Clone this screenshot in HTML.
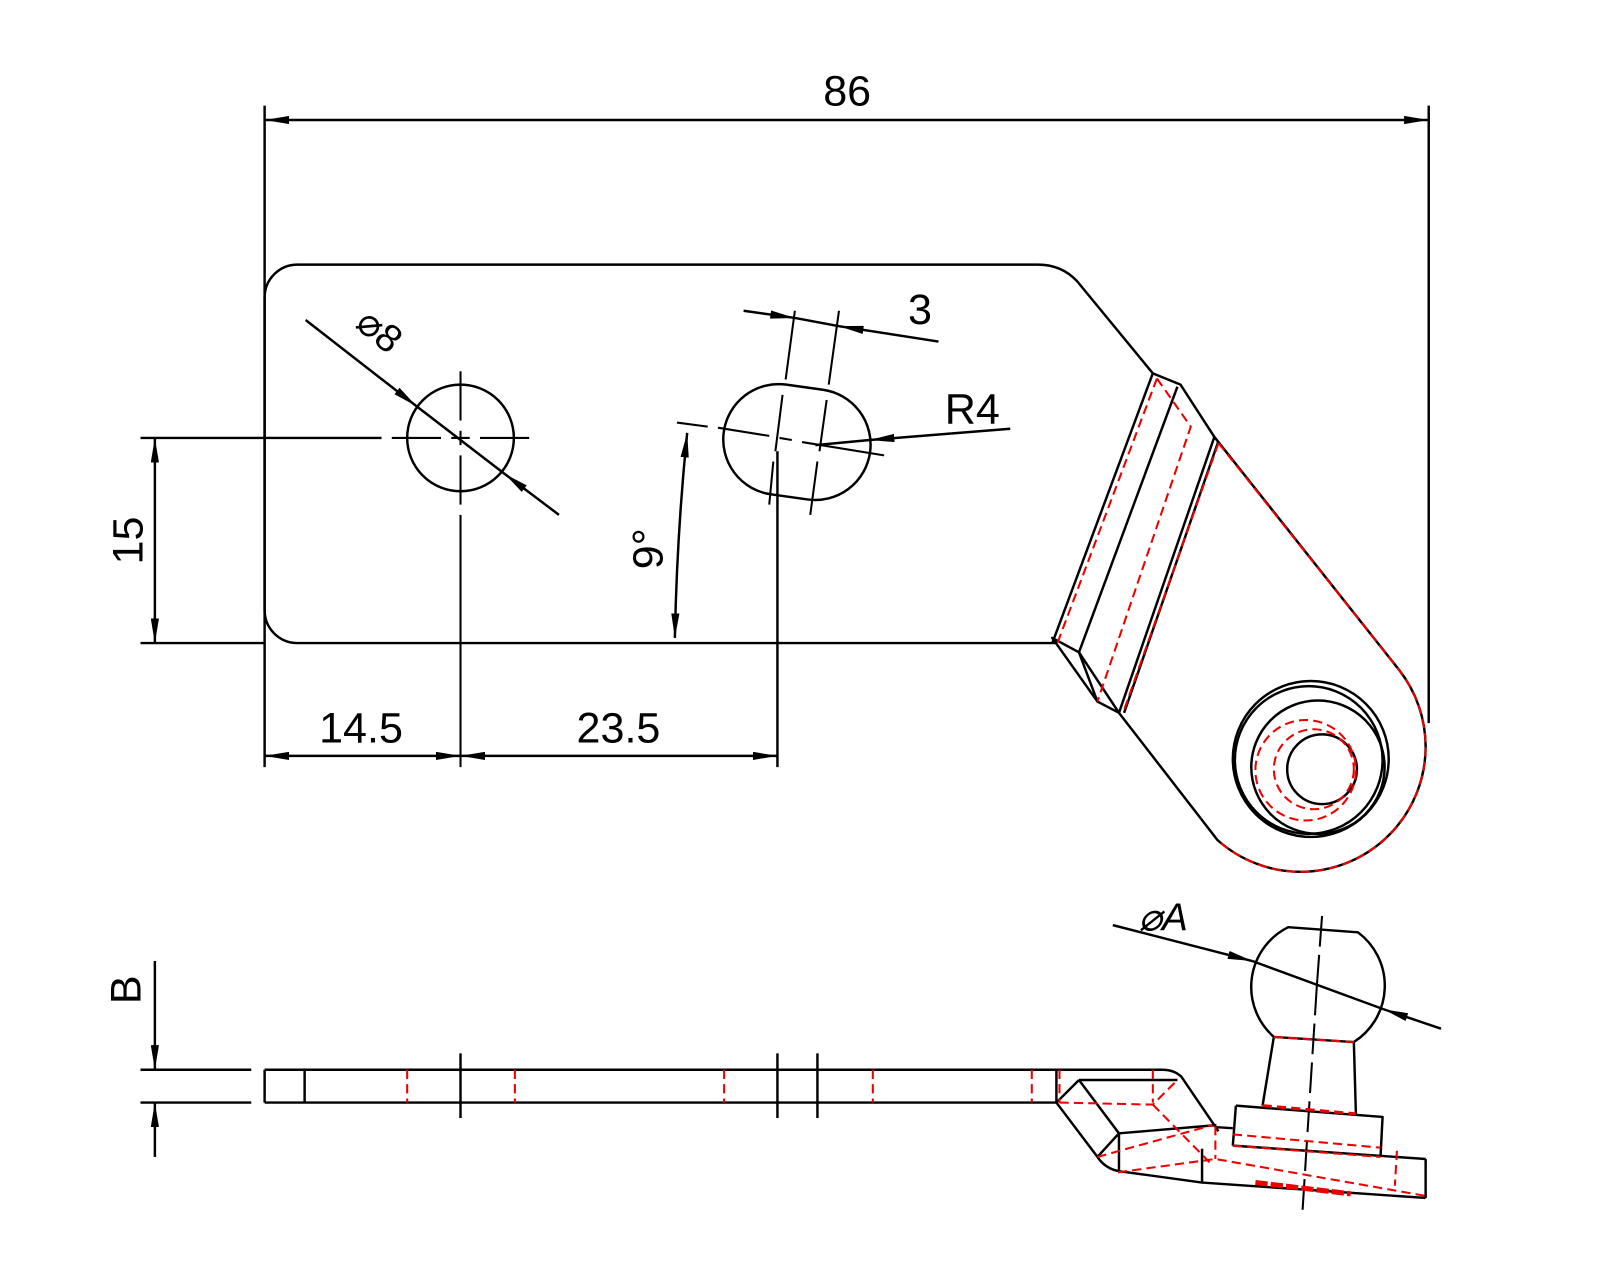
<!DOCTYPE html>
<html><head><meta charset="utf-8"><style>
html,body{margin:0;padding:0;background:#fff;}
svg{display:block;}
text{font-family:"Liberation Sans",sans-serif;fill:#000;}
</style></head><body>
<svg width="1600" height="1280" viewBox="0 0 1560 1248" preserveAspectRatio="none" xmlns="http://www.w3.org/2000/svg">
<defs>
<marker id="a" viewBox="0 0 24 8" refX="24" refY="4" markerWidth="24" markerHeight="8" markerUnits="userSpaceOnUse" orient="auto-start-reverse">
<path d="M0,0 L24,4 L0,8 Z" fill="#000"/></marker>
</defs>
<g fill="none" stroke="#000" stroke-width="2.4" stroke-linejoin="round">
<line x1="258" y1="103" x2="258" y2="748"/>
<line x1="1393" y1="103" x2="1393" y2="705"/>
<line x1="258" y1="117" x2="1393" y2="117" marker-start="url(#a)" marker-end="url(#a)"/>
<path d="M290,258 L1012,258 Q1035,258 1050,274 L1124,364 L1151,375 L1184,426 L1364,653 A122,122 0 0 1 1390,728 A122,122 0 0 1 1268,850 A122,122 0 0 1 1187,819 L1091,695 L1070,684 L1052,636 L1026,622 L1030,627 L290,627 A32,32 0 0 1 258,595 L258,290 A32,32 0 0 1 290,258 Z"/>
<line x1="1026" y1="627" x2="1124" y2="364"/>
<line x1="1148" y1="377" x2="1052" y2="636"/>
<line x1="1184" y1="426" x2="1091" y2="695"/>
<line x1="1188" y1="430" x2="1096" y2="695"/>
<line x1="1052" y1="636" x2="1091" y2="695"/>
<line x1="1026" y1="622" x2="1070" y2="684"/>
<circle cx="1278" cy="740" r="76"/>
<circle cx="1276" cy="741" r="72"/>
<circle cx="1285" cy="748" r="65"/>
<circle cx="1289" cy="750" r="34"/>
<circle cx="449" cy="427" r="52"/>
<path d="M-18,-54 L18,-54 A54,54 0 0 1 18,54 L-18,54 A54,54 0 0 1 -18,-54 Z" transform="translate(777,431) rotate(8)"/>
<line x1="137" y1="427" x2="372" y2="427"/>
<line x1="137" y1="627" x2="258" y2="627"/>
<line x1="151" y1="427" x2="151" y2="627" marker-start="url(#a)" marker-end="url(#a)"/>
<g stroke-width="2">
<line x1="382" y1="427" x2="430" y2="427"/>
<line x1="440" y1="427" x2="458" y2="427"/>
<line x1="468" y1="427" x2="516" y2="427"/>
<line x1="449" y1="362" x2="449" y2="410"/>
<line x1="449" y1="420" x2="449" y2="434"/>
<line x1="449" y1="444" x2="449" y2="492"/>
<line x1="449" y1="502" x2="449" y2="748"/>
</g>
<line x1="298" y1="312" x2="406" y2="396" marker-end="url(#a)"/>
<line x1="406" y1="396" x2="492" y2="462"/>
<line x1="545" y1="502" x2="492" y2="462" marker-end="url(#a)"/>
<g stroke-width="2">
<line x1="775" y1="303" x2="766" y2="370"/>
<line x1="763" y1="385" x2="756" y2="440"/>
<line x1="754" y1="450" x2="750" y2="492"/>
<line x1="818" y1="303" x2="808" y2="375"/>
<line x1="806" y1="390" x2="799" y2="440"/>
<line x1="797" y1="450" x2="790" y2="502"/>
<line x1="660" y1="412" x2="690" y2="416"/>
<line x1="700" y1="417" x2="750" y2="425"/>
<line x1="760" y1="427" x2="772" y2="429"/>
<line x1="782" y1="431" x2="862" y2="444"/>
</g>
<line x1="725" y1="303" x2="775" y2="310" marker-end="url(#a)"/>
<line x1="915" y1="333" x2="818" y2="318" marker-end="url(#a)"/>
<line x1="775" y1="310" x2="818" y2="318"/>
<line x1="985" y1="418" x2="848" y2="429" marker-end="url(#a)"/>
<line x1="848" y1="429" x2="795" y2="434"/>
<line x1="758" y1="440" x2="758" y2="748"/>
<path d="M670,422 Q660,520 658,622" marker-start="url(#a)" marker-end="url(#a)"/>
<line x1="258" y1="737" x2="449" y2="737" marker-start="url(#a)" marker-end="url(#a)"/>
<line x1="449" y1="737" x2="758" y2="737" marker-start="url(#a)" marker-end="url(#a)"/>
<line x1="258" y1="1043" x2="258" y2="1075"/>
<line x1="297" y1="1043" x2="297" y2="1075"/>
<line x1="258" y1="1043" x2="1133" y2="1043"/>
<line x1="258" y1="1075" x2="1030" y2="1075"/>
<line x1="137" y1="1043" x2="245" y2="1043"/>
<line x1="137" y1="1075" x2="245" y2="1075"/>
<line x1="151" y1="937" x2="151" y2="1043" marker-end="url(#a)"/>
<line x1="151" y1="1128" x2="151" y2="1075" marker-end="url(#a)"/>
<line x1="449" y1="1027" x2="449" y2="1090"/>
<line x1="758" y1="1027" x2="758" y2="1090"/>
<line x1="797" y1="1027" x2="797" y2="1090"/>
<line x1="1030" y1="1043" x2="1030" y2="1075"/>
<path d="M1133,1043 Q1145,1043 1152,1050 L1188,1103"/>
<path d="M1030,1075 L1070,1128 Q1078,1140 1092,1142 L1172,1153 L1390,1168"/>
<line x1="1052" y1="1053" x2="1148" y2="1053"/>
<line x1="1030" y1="1075" x2="1052" y2="1053"/>
<line x1="1052" y1="1053" x2="1091" y2="1105"/>
<line x1="1091" y1="1105" x2="1070" y2="1128"/>
<line x1="1091" y1="1105" x2="1091" y2="1142"/>
<line x1="1091" y1="1105" x2="1186" y2="1097"/>
<line x1="1172" y1="1120" x2="1172" y2="1153"/>
<line x1="1202" y1="1117" x2="1390" y2="1130"/>
<line x1="1390" y1="1130" x2="1390" y2="1168"/>
<line x1="1186" y1="1099" x2="1202" y2="1100"/>
<path d="M1205,1078 L1348,1089 L1346,1128 M1205,1078 L1202,1117"/>
<path d="M1242,1011 L1231,1078 M1320,1016 L1322,1086"/>
<path d="M1256,904 L1324,909 A65,65 0 0 1 1320,1016 L1242,1011 A65,65 0 0 1 1256,904 Z"/>
<g stroke-width="2"><line x1="1289" y1="893" x2="1284" y2="960" stroke-dasharray="30 8"/><line x1="1284" y1="960" x2="1270" y2="1180" stroke-dasharray="30 8"/></g>
<line x1="1085" y1="902" x2="1221" y2="937" marker-end="url(#a)"/>
<line x1="1221" y1="937" x2="1349" y2="984"/>
<line x1="1405" y1="1003" x2="1349" y2="984" marker-end="url(#a)"/>
</g>
<g fill="none" stroke="#e00" stroke-width="2" stroke-dasharray="9 5">
<path d="M1128,369 L1031,627 M1128,369 L1161,416 L1070,684 M1188,432 L1095,695 M1188,432 L1364,653 A122,122 0 0 1 1390,728 A122,122 0 0 1 1268,850 A122,122 0 0 1 1187,819"/>
<circle cx="1273" cy="751" r="49"/>
<circle cx="1281" cy="750" r="39"/>
<line x1="397" y1="1043" x2="397" y2="1075"/><line x1="502" y1="1043" x2="502" y2="1075"/>
<line x1="706" y1="1043" x2="706" y2="1075"/><line x1="851" y1="1043" x2="851" y2="1075"/>
<line x1="1006" y1="1043" x2="1006" y2="1075"/><line x1="1033" y1="1043" x2="1033" y2="1075"/>
<line x1="1124" y1="1043" x2="1124" y2="1075"/>
<path d="M1033,1075 L1124,1077 L1148,1053 M1124,1077 L1182,1136 M1070,1128 L1182,1097 M1090,1143 L1185,1130 L1390,1166 M1202,1106 L1346,1119 M1202,1117 L1346,1128 M1362,1122 L1360,1156 M1185,1098 L1185,1130"/>
<path d="M1242,1011 L1320,1016"/>
<path d="M1231,1078 L1322,1086" stroke-width="3"/>
<path d="M1224,1153 L1317,1164" stroke-width="5" stroke-dasharray="12 3"/>
</g>
<text x="826" y="103" font-size="42" text-anchor="middle">86</text>
<text x="897" y="316" font-size="42" text-anchor="middle">3</text>
<text x="948" y="413" font-size="42" text-anchor="middle">R4</text>
<text x="352" y="724" font-size="42" text-anchor="middle">14.5</text>
<text x="603" y="724" font-size="42" text-anchor="middle">23.5</text>
<text transform="translate(139,527) rotate(-90)" font-size="42" text-anchor="middle">15</text>
<text transform="translate(646,535) rotate(-90)" font-size="42" text-anchor="middle">9°</text>
<text transform="translate(137,965) rotate(-90)" font-size="42" text-anchor="middle">B</text>
<text transform="translate(345,318) rotate(40)" font-size="38">⌀8</text>
<text x="1110" y="907" font-size="38" font-style="italic">⌀A</text>
</svg>
</body></html>
